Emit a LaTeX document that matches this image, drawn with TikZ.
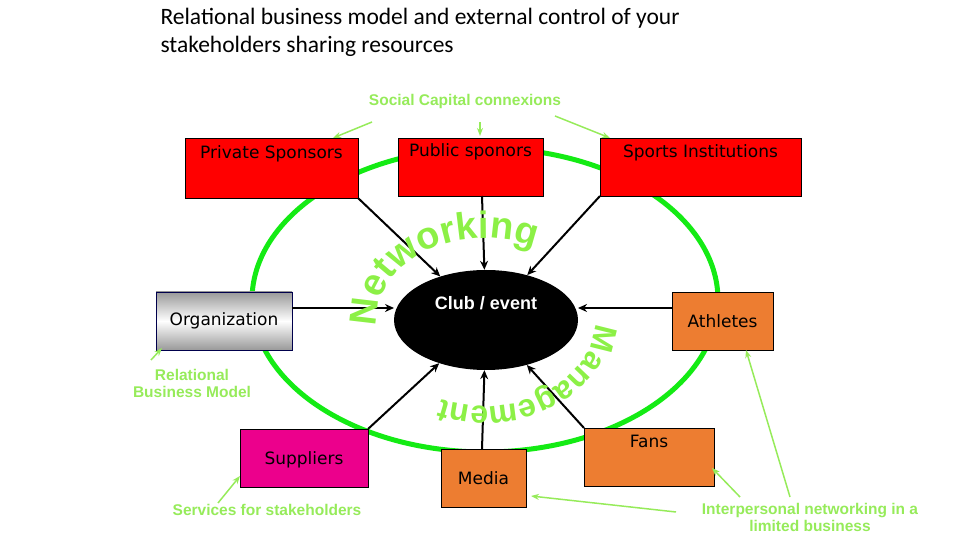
\documentclass[tikz,border=0pt]{standalone}
\usepackage{fontspec}
\setmainfont{Carlito}
\newfontfamily\boxfont{DejaVu Sans}
\newfontfamily\notefont{Liberation Sans}
\usetikzlibrary{arrows.meta}
\usetikzlibrary{shapes.geometric}
\usetikzlibrary{decorations.text}
\definecolor{notegreen}{RGB}{150,235,90}
\definecolor{ringgreen}{RGB}{20,235,20}
\definecolor{wordgreen}{RGB}{140,240,70}
\definecolor{boxorange}{RGB}{237,125,49}
\begin{document}
\begin{tikzpicture}[x=1pt,y=1pt]

\tikzset{
    box/.style = {
    draw, thick, font=\boxfont\fontsize{17}{19}\selectfont, inner sep=0pt
    },
    link/.style = {draw, line width=2pt, -{Stealth[length=9pt,width=8pt]}},
    note/.style = {text=notegreen, font=\notefont\bfseries\fontsize{15.5}{17}\selectfont, align=center},
    hint/.style = {draw=notegreen, line width=1.5pt, -{Stealth[length=8pt,width=6pt]}}
}

\useasboundingbox (0,0) rectangle (960,540);

% title
\node (title) [anchor=north west, align=left, font=\fontsize{23.5}{28}\selectfont] at (157,535)
  {Relational business model and external control of your\\stakeholders sharing resources};

% ring
\draw [ringgreen, line width=5pt] (485,240) ellipse [x radius=233, y radius=152];

% boxes
\draw [box, fill=red] (185,342) rectangle (358,402);
\node (priv) [box, draw=none] at (271.5,386) {Private Sponsors};
\draw [box, fill=red] (398,344) rectangle (543,402);
\node (pub) [box, draw=none] at (470.5,388) {Public sponors};
\draw [box, fill=red] (600,344) rectangle (801,402);
\node (sport) [box, draw=none] at (700.5,387) {Sports Institutions};
\shade [top color=gray!80, bottom color=gray!80, middle color=white, draw=black!70!blue, thick] (156,190) rectangle (292,248);
\node (org) [box, draw=none] at (224,219) {Organization};
\draw [box, fill=boxorange] (672,190) rectangle (773,248);
\node (ath) [box, draw=none] at (722.5,219) {Athletes};
\draw [box, fill=magenta] (240,53) rectangle (368,111);
\node (sup) [box, draw=none] at (304,80) {Suppliers};
\draw [box, fill=boxorange] (441,33) rectangle (526,91);
\node (media) [box, draw=none] at (483.5,62) {Media};
\draw [box, fill=boxorange] (584,54) rectangle (714,112);
\node (fans) [box, draw=none] at (649,99) {Fans};

% centre
\node (club) [ellipse, fill=black, minimum width=184, minimum height=100] at (486,220) {};
\node [text=white, font=\notefont\bfseries\fontsize{18}{20}\selectfont] at (486,237) {Club / event};

\draw [link] (358,342) -- (club);
\draw [link] (482,344) -- (club);
\draw [link] (600,344) -- (club);
\draw [link] (672,232) -- (578,232);
\draw [link] (292,232) -- (394,232);
\draw [link] (368,111) -- (club);
\draw [link] (482,91) -- (club);
\draw [link] (584,112) -- (club);

% words on the arc
\path [decorate, decoration={text along path, text align=center,
  text={|\notefont\bfseries\fontsize{38}{38}\selectfont\color{wordgreen}|Networking}}]
  (485,220) ++(200:108 and 82) arc [start angle=200, end angle=50, x radius=108, y radius=82];
\path [decorate, decoration={text along path, text align=center,
  text={|\notefont\bfseries\fontsize{32}{32}\selectfont\color{wordgreen}|Management}}]
  (485,220) ++(12:110 and 86) arc [start angle=12, end angle=-125, x radius=110, y radius=86];

% notes
\node (social) [note] at (465,438) {Social Capital connexions};
\coordinate (s1) at (372,418);
\coordinate (s2) at (480,418);
\coordinate (s3) at (555,424);
\draw [hint] (s1) -- (333,402);
\draw [hint] (s2) -- (480,404);
\draw [hint] (s3) -- (610,402);

\node (relbm) [note] at (192,157) {Relational\\Business Model};
\coordinate (r1) at (151,180);
\draw [hint] (r1) -- (162,192);

\node (serv) [note] at (267,30) {Services for stakeholders};
\coordinate (v1) at (218,37);
\draw [hint] (v1) -- (240,64);

\node (inter) [note] at (810,23) {Interpersonal networking in a\\limited business};
\coordinate (i1) at (740,43);
\coordinate (i2) at (790,43);
\coordinate (i3) at (676,28);
\draw [hint] (i1) -- (712,72);
\draw [hint] (i2) -- (746,190);
\draw [hint] (i3) -- (531,44);

\end{tikzpicture}
\end{document}
